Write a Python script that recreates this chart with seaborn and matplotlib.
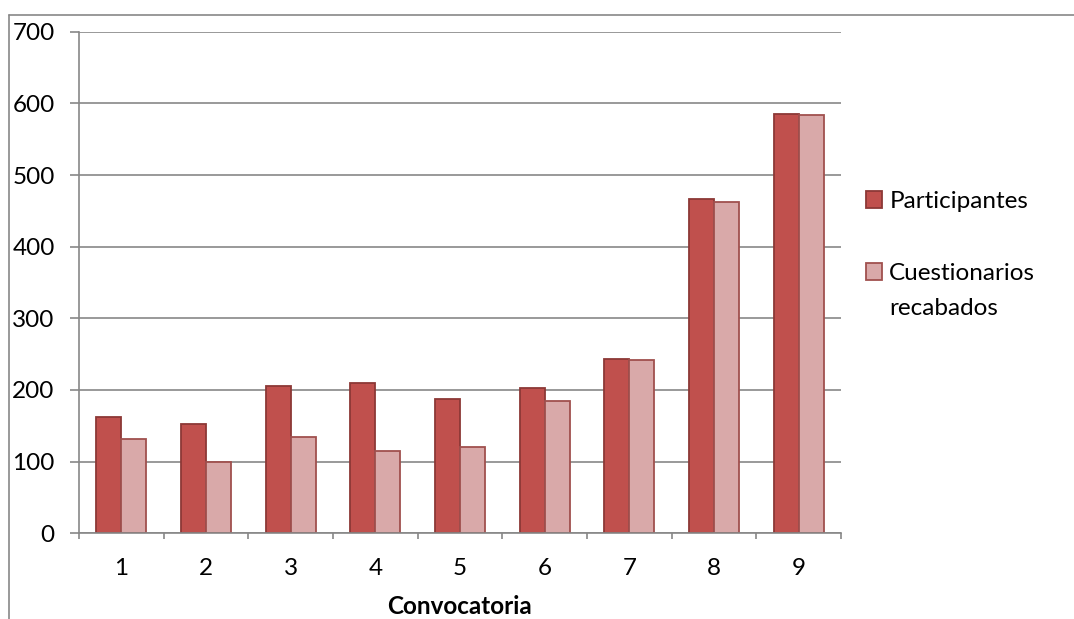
import matplotlib
matplotlib.use("Agg")
import matplotlib.pyplot as plt
import seaborn as sns
import pandas as pd
from matplotlib.lines import Line2D
from matplotlib.patches import Patch

categories = ["1", "2", "3", "4", "5", "6", "7", "8", "9"]
participantes = [162, 152, 205, 210, 187, 203, 243, 467, 585]
cuestionarios = [131, 100, 134, 115, 120, 184, 242, 462, 584]
series_names = ["Participantes", "Cuestionarios recabados"]
yticks = [0, 100, 200, 300, 400, 500, 600, 700]

df = pd.DataFrame({
    "Convocatoria": categories * 2,
    "valor": participantes + cuestionarios,
    "serie": [series_names[0]] * len(categories) + [series_names[1]] * len(categories),
})

sns.set_theme(style="white")
plt.rcParams["font.family"] = ["Lato", "DejaVu Sans"]
plt.rcParams["text.color"] = "black"

FS = 17.5
fills = ["#C0504D", "#D9A9A9"]
edges = ["#8C3836", "#A0504E"]
grid_c = "#878787"

fig = plt.figure(figsize=(10.74, 6.19), dpi=100)
ax = fig.add_axes([79/1074, 1-533.3/619, (841-79)/1074, (533.3-31.7)/619])

sns.barplot(data=df, x="Convocatoria", y="valor", hue="serie", order=categories,
            hue_order=series_names, palette=fills, width=0.587, gap=0,
            saturation=1, ax=ax, legend=False)

for i, cont in enumerate(ax.containers):
    for p in cont:
        p.set_edgecolor(edges[i])
        p.set_linewidth(1.3)

ax.set_xlim(-0.5, len(categories) - 0.5)
ax.set_ylim(0, 700)
ax.set_yticks(yticks)
ax.set_yticklabels([str(v) for v in yticks])
ax.yaxis.grid(True, color=grid_c, linewidth=1.2)
ax.set_axisbelow(True)
for s in ["top", "right"]:
    ax.spines[s].set_visible(False)
for s in ["left", "bottom"]:
    ax.spines[s].set_color(grid_c)
    ax.spines[s].set_linewidth(1.2)

ax.tick_params(axis="y", which="major", length=6.5, width=1.2, color=grid_c,
               direction="out", pad=11, labelsize=FS, labelcolor="black", left=True)
ax.tick_params(axis="x", which="major", length=0, pad=18, labelsize=FS, labelcolor="black")
ax.set_xticks([i - 0.5 for i in range(len(categories) + 1)], minor=True)
ax.tick_params(axis="x", which="minor", length=4, width=1.2, color=grid_c, direction="out", bottom=True)

ax.set_ylabel("")
ax.set_xlabel("Convocatoria", fontsize=FS, fontweight="bold", labelpad=11, color="black")

handles = [Patch(facecolor=fills[i], edgecolor=edges[i], linewidth=1.3) for i in range(2)]
leg = fig.legend(handles, ["Participantes", "Cuestionarios"], loc="upper left",
                 bbox_to_anchor=(866/1074, 1-191/619), labelcolor="black",
                 frameon=False, fontsize=FS, handlelength=0.66, handleheight=0.66,
                 handletextpad=0.3, labelspacing=2.1, borderaxespad=0, borderpad=0)

fig.canvas.draw()
tb = leg.get_texts()[1].get_window_extent()
fig.text(tb.x0 / 1074, (tb.y0 - 35 + tb.height / 2) / 619, "recabados", fontsize=FS,
         ha="left", va="center", color="black")

# outer chart border (cropped)
fig.add_artist(Line2D([9/1074, 9/1074], [0, 1-15/619], transform=fig.transFigure, color=grid_c, linewidth=1.2))
fig.add_artist(Line2D([9/1074, 1], [1-15/619, 1-15/619], transform=fig.transFigure, color=grid_c, linewidth=1.2))

fig.savefig("out.png", dpi=100)
